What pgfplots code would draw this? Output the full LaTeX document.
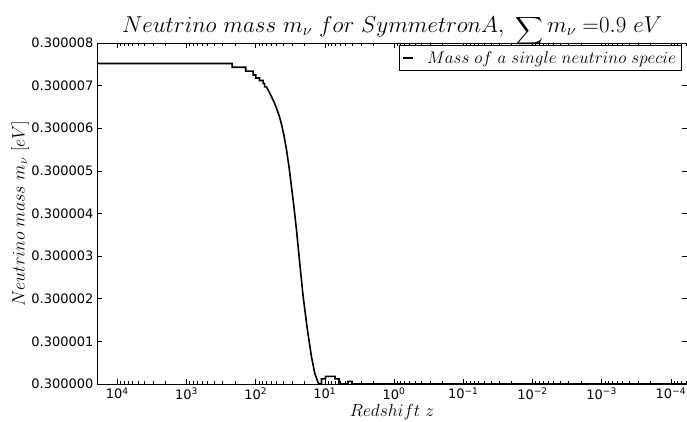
\RequirePackage{fix-cm}
\documentclass[border=0pt]{standalone}
\usepackage{exscale}
\usepackage[no-math]{fontspec}
\setmainfont{Latin Modern Roman}
\newfontfamily\dejavu{DejaVu Sans}
\usepackage{pgfplots}
\pgfplotsset{compat=1.18}
% y values are stored as (m_nu - 0.3 eV) in units of 1e-6 eV
\begin{document}
\begin{tikzpicture}
\begin{axis}[
  at={(0pt,0pt)}, anchor=south west,
  width=590pt, height=341pt, scale only axis,
  xmode=log, x dir=reverse,
  xmin=5.85e-5, xmax=19630,
  ymin=0, ymax=8,
  xtick={1e4,1e3,1e2,1e1,1,1e-1,1e-2,1e-3,1e-4},
  xticklabels={10\textsuperscript{4},10\textsuperscript{3},10\textsuperscript{2},10\textsuperscript{1},10\textsuperscript{0},10\textsuperscript{−1},10\textsuperscript{−2},10\textsuperscript{−3},10\textsuperscript{−4}},
  minor xtick={6e-5,7e-5,8e-5,9e-5,
    2e-4,3e-4,4e-4,5e-4,6e-4,7e-4,8e-4,9e-4,
    2e-3,3e-3,4e-3,5e-3,6e-3,7e-3,8e-3,9e-3,
    2e-2,3e-2,4e-2,5e-2,6e-2,7e-2,8e-2,9e-2,
    0.2,0.3,0.4,0.5,0.6,0.7,0.8,0.9,
    2,3,4,5,6,7,8,9,
    20,30,40,50,60,70,80,90,
    200,300,400,500,600,700,800,900,
    2000,3000,4000,5000,6000,7000,8000,9000},
  ytick={0,1,2,3,4,5,6,7,8},
  yticklabels={0.300000,0.300001,0.300002,0.300003,0.300004,0.300005,0.300006,0.300007,0.300008},
  tick label style={font=\dejavu\fontsize{13}{15}\selectfont},
  tick align=inside,
  major tick length=5pt, minor tick length=2.5pt,
  every tick/.style={black, line width=0.6pt},
  axis line style={line width=0.8pt},
  title={$Neutrino\ mass\ m_{\nu}\ for\ SymmetronA,\ \mathop{\raisebox{-3pt}{\scalebox{0.78}{$\displaystyle\sum$}}} m_{\nu}\;{=}0.9\ eV$},
  title style={font=\fontsize{23}{27}\selectfont, at={(0.5,1)}, anchor=south, yshift=-13pt},
  xlabel={$Redshift\ z$},
  ylabel={$Neutrino\ mass\ m_{\nu}\ [eV]$},
  every axis x label/.style={at={(axis description cs:0.5,0)}, anchor=center, yshift=-28pt,
    font=\fontsize{17.5}{20}\selectfont},
  every axis y label/.style={at={(axis description cs:-0.1305,0.5)}, anchor=center, rotate=90,
    font=\fontsize{18}{21}\selectfont},
  legend style={at={(0.512,0.994)}, anchor=north west, draw=black, line width=0.8pt,
    font=\fontsize{17}{19}\selectfont, inner xsep=3pt, inner ysep=4pt, row sep=0pt,
    /tikz/every odd column/.append style={column sep=11pt}},
  legend cell align=left,
  legend image code/.code={\draw[line width=1.6pt] (0pt,0pt) -- (10pt,0pt);},
]
\addplot[black, line width=1.6pt] coordinates {
(19953,7.52) (218.6,7.52) (218.6,7.43) (139,7.43) (139,7.34) (108.7,7.34) (108.7,7.25)
(99.7,7.25) (99.7,7.18) (88.1,7.18) (88.1,7.12) (77.9,7.12) (77.9,7.05) (74.1,7.05)
(74.1,6.97) (69.8,6.97) (64.2,6.86) (59.1,6.74) (54.0,6.61) (50.0,6.47) (45.8,6.30)
(42.4,6.10) (38.9,5.82) (35.9,5.50) (33.0,5.10) (30.4,4.63) (27.96,4.15) (25.7,3.61)
(23.05,2.83) (20.6,2.05) (17.84,1.26) (15.62,0.64) (14.0,0.25) (12.5,0.03) (12.17,0)
(11.2,0) (11.2,0.12) (9.8,0.12) (9.8,0.18) (7.14,0.18) (7.14,0.12) (6.26,0.12)
(6.26,0) (4.64,0) (4.64,0.06) (4.06,0.06) (4.06,0) (5.85e-5,0)
};
\addlegendentry{$Mass\ of\ a\ single\ neutrino\ specie$\hspace{14pt}}
\end{axis}
\pgfresetboundingbox
\path[use as bounding box] (-97pt,-38pt) rectangle (590pt,384pt);
\end{tikzpicture}
\end{document}
